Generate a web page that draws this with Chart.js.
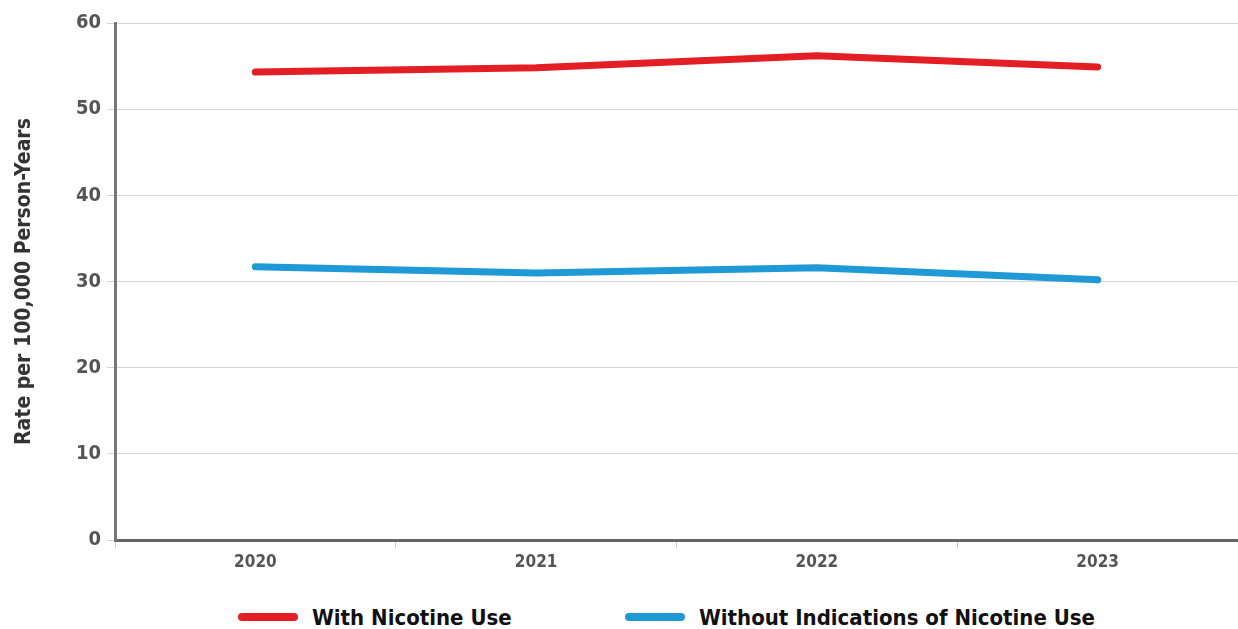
<!DOCTYPE html>
<html>
<head>
<meta charset="utf-8">
<script src="https://cdn.jsdelivr.net/npm/chart.js@4"></script>
<style>
  body { margin: 0; background: #fff; }
  #wrap { position: relative; width: 1238px; height: 629px; overflow: hidden; }
  #box { position: absolute; left: 0; top: 0; width: 1238px; height: 575px; }
  #legend { position: absolute; top: 602px; left: 0; width: 1238px; height: 30px;
    font-family: 'Liberation Sans Narrow', 'DejaVu Sans Condensed', sans-serif; font-weight: bold; font-size: 22px; color: #111; }
  .item { position: absolute; top: 0; display: flex; align-items: center; height: 30px; }
  .swatch { width: 60px; height: 8px; border-radius: 4px; margin-right: 14px; }
</style>
</head>
<body>
<div id="wrap">
  <div id="box"><canvas id="chart"></canvas></div>
  <div id="legend"></div>
</div>
<script>
// ---------- data ----------
const years = ['2020', '2021', '2022', '2023'];
const withNicotine = [54.3, 54.8, 56.2, 54.9];
const withoutNicotine = [31.7, 31.0, 31.6, 30.2];
const seriesNames = ['With Nicotine Use', 'Without Indications of Nicotine Use'];
const seriesColors = ['#e31e25', '#1f9ad7'];
const legendLefts = [238, 625];

const fontFam = "'Liberation Sans Narrow', 'DejaVu Sans Condensed', sans-serif";

const ctx = document.getElementById('chart');
const chart = new Chart(ctx, {
    type: 'line',
    data: {
        labels: years,
        datasets: [
            { label: seriesNames[0], data: withNicotine, borderColor: seriesColors[0], backgroundColor: seriesColors[0], borderWidth: 7, pointRadius: 0, tension: 0, borderCapStyle: 'round', borderJoinStyle: 'round' },
            { label: seriesNames[1], data: withoutNicotine, borderColor: seriesColors[1], backgroundColor: seriesColors[1], borderWidth: 7, pointRadius: 0, tension: 0, borderCapStyle: 'round', borderJoinStyle: 'round' }
        ]
    },
    options: {
        responsive: true,
        maintainAspectRatio: false,
        animation: false,
        layout: { padding: { top: 23, right: 0, bottom: 0, left: 12 } },
        plugins: { legend: { display: false }, tooltip: { enabled: false } },
        scales: {
            x: {
                offset: true,
                afterFit: (scale) => { scale.height = 35; },
                grid: { drawOnChartArea: false, offset: true, tickLength: 8, color: '#c8c8c8', lineWidth: 1 },
                border: { color: '#666', width: 3 },
                ticks: { color: '#555', padding: 4, font: { family: fontFam, size: 17, weight: 'bold' } }
            },
            y: {
                min: 0, max: 60,
                afterFit: (scale) => { scale.width = 103; },
                ticks: { stepSize: 10, color: '#555', padding: 6, font: { family: fontFam, size: 20, weight: 'bold' } },
                grid: { color: '#d4d4d4', lineWidth: 1, tickLength: 8 },
                border: { color: '#777', width: 3 },
                title: { display: true, text: 'Rate per 100,000 Person-Years', color: '#333', padding: { top: 0, bottom: 20 }, font: { family: fontFam, size: 21, weight: 'bold' } }
            }
        }
    }
});

// legend as html, positioned like the original
const legend = document.getElementById('legend');
seriesNames.forEach((name, i) => {
    const item = document.createElement('div');
    item.className = 'item';
    item.style.left = legendLefts[i] + 'px';
    item.innerHTML = '<span class="swatch" style="background:' + seriesColors[i] + '"></span><span>' + name + '</span>';
    legend.appendChild(item);
});
</script>
</body>
</html>
